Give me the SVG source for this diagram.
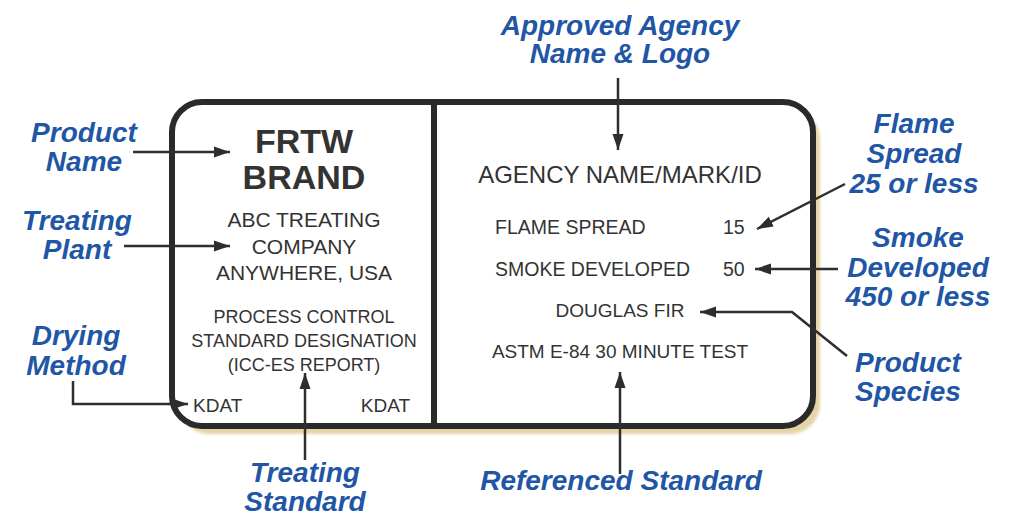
<svg xmlns="http://www.w3.org/2000/svg" width="1009" height="524" viewBox="0 0 1009 524">
<defs>
<style>
.lbl{font-family:"Liberation Sans",Arial,sans-serif;font-weight:bold;font-style:italic;font-size:28px;fill:#1f56a6;text-anchor:middle}
.t{font-family:"Liberation Sans",Arial,sans-serif;fill:#333}
.c{text-anchor:middle}
.conn{fill:none;stroke:#2e2e2e;stroke-width:2.5;marker-end:url(#ah)}
</style>
<marker id="ah" markerUnits="userSpaceOnUse" markerWidth="17" markerHeight="12" refX="16" refY="6" orient="auto">
<path d="M0,0.5 L16,6 L0,11.5 z" fill="#2e2e2e"/>
</marker>
<filter id="blur" x="-5%" y="-5%" width="110%" height="110%"><feGaussianBlur stdDeviation="1.5"/></filter>
</defs>
<rect width="1009" height="524" fill="#ffffff"/>
<g id="card">
<rect x="179" y="109" width="641" height="325" rx="30" fill="#e4d4a6" filter="url(#blur)"/>
<rect x="172" y="102" width="641" height="324" rx="30" fill="#ffffff" stroke="#2a2a2a" stroke-width="6"/>
<line x1="434" y1="102" x2="434" y2="426" stroke="#2a2a2a" stroke-width="6"/>
</g>
<g id="left-panel">
<text class="t c" x="304" y="153" font-size="34" font-weight="bold">FRTW</text>
<text class="t c" x="304" y="189" font-size="34" font-weight="bold">BRAND</text>
<text class="t c" x="304" y="227" font-size="21">ABC TREATING</text>
<text class="t c" x="304" y="254" font-size="21">COMPANY</text>
<text class="t c" x="304" y="280" font-size="21">ANYWHERE, USA</text>
<text class="t c" x="304" y="323" font-size="18">PROCESS CONTROL</text>
<text class="t c" x="304" y="347" font-size="18">STANDARD DESIGNATION</text>
<text class="t c" x="304" y="371" font-size="18">(ICC-ES REPORT)</text>
<text class="t" x="193" y="412" font-size="19">KDAT</text>
<text class="t" x="410" y="412" font-size="19" text-anchor="end">KDAT</text>
</g>
<g id="right-panel">
<text class="t c" x="620" y="183" font-size="24">AGENCY NAME/MARK/ID</text>
<text class="t" x="495" y="234" font-size="19.5">FLAME SPREAD</text>
<text class="t" x="723" y="234" font-size="19.5">15</text>
<text class="t" x="495" y="276" font-size="19.5">SMOKE DEVELOPED</text>
<text class="t" x="723" y="276" font-size="19.5">50</text>
<text class="t c" x="620" y="317" font-size="19">DOUGLAS FIR</text>
<text class="t c" x="620" y="358" font-size="19">ASTM E-84 30 MINUTE TEST</text>
</g>
<g id="label-agency"><text class="lbl" x="620" y="35">Approved Agency</text><text class="lbl" x="620" y="63">Name &amp; Logo</text></g>
<g id="label-product-name"><text class="lbl" x="84" y="142">Product</text><text class="lbl" x="84" y="171">Name</text></g>
<g id="label-treating-plant"><text class="lbl" x="77" y="230">Treating</text><text class="lbl" x="77" y="259">Plant</text></g>
<g id="label-drying"><text class="lbl" x="76" y="345">Drying</text><text class="lbl" x="76" y="375">Method</text></g>
<g id="label-flame"><text class="lbl" x="914" y="133">Flame</text><text class="lbl" x="914" y="163">Spread</text><text class="lbl" x="914" y="193">25 or less</text></g>
<g id="label-smoke"><text class="lbl" x="918" y="247">Smoke</text><text class="lbl" x="918" y="277">Developed</text><text class="lbl" x="918" y="306">450 or less</text></g>
<g id="label-species"><text class="lbl" x="908" y="372">Product</text><text class="lbl" x="908" y="401">Species</text></g>
<g id="label-treating-std"><text class="lbl" x="305" y="482">Treating</text><text class="lbl" x="305" y="511">Standard</text></g>
<g id="label-ref-std"><text class="lbl" x="621" y="490">Referenced Standard</text></g>
<g id="connectors">
<path class="conn" d="M618,78 L618,150"/>
<path class="conn" d="M133,152 L230,152"/>
<path class="conn" d="M124,246 L230,246"/>
<path class="conn" d="M73,381 L73,404 L188,404"/>
<path class="conn" d="M305,460 L305,373"/>
<path class="conn" d="M620,474 L620,372"/>
<path class="conn" d="M845,184 L757,229"/>
<path class="conn" d="M838,269 L755,269"/>
<path class="conn" d="M847,356 L792,312 L700,312"/>
</g>
</svg>
